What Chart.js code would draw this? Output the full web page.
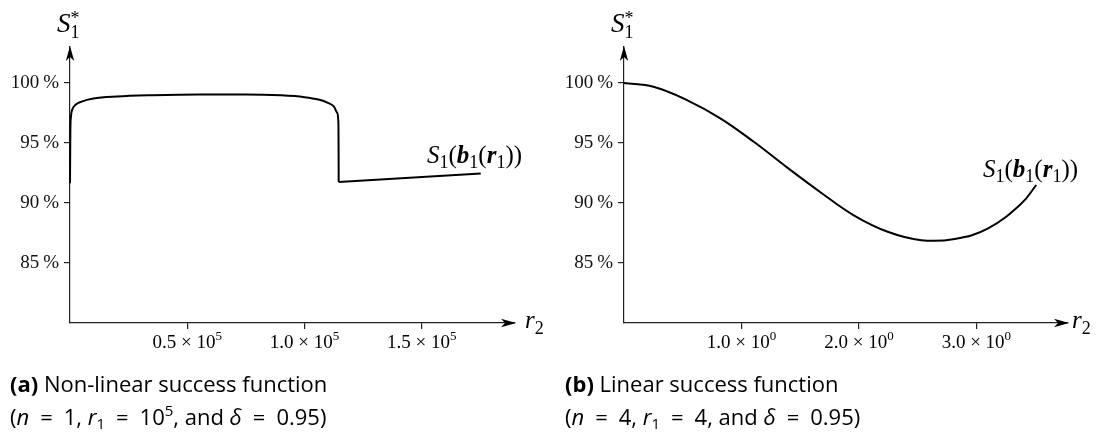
<!DOCTYPE html>
<html>
<head>
<meta charset="utf-8">
<script src="https://cdn.jsdelivr.net/npm/chart.js@4.4.1/dist/chart.umd.min.js"></script>
<style>
  body { margin: 0; background: #fff; width: 1102px; height: 432px; overflow: hidden; position: relative; }
  canvas { position: absolute; top: 0; }
  #chartA { left: 0; }
  #chartB { left: 554px; }
</style>
</head>
<body>
<canvas id="chartA" width="554" height="432"></canvas>
<canvas id="chartB" width="548" height="432"></canvas>
<script>
// (a) non-linear success function
const r2A = [0, 150, 400, 1000, 2500, 5000, 10000, 20000, 35000, 55000, 75000, 90000, 100000, 106000, 110000, 112500, 114000, 114500, 114600];
const sA = [91.65, 96.0, 97.2, 97.8, 98.2, 98.45, 98.7, 98.87, 98.98, 99.05, 99.05, 98.97, 98.82, 98.62, 98.35, 98.05, 97.5, 96.5, 91.75];
const r2ATail = [114600, 175200];
const sATail = [91.75, 92.45];
const xTicksA = [50000, 100000, 150000];
const xMantA = ['0.5', '1.0', '1.5'];
const xExpA = '5';

// (b) linear success function
const r2B = [0, 0.25, 0.536, 0.82, 1.105, 1.39, 1.675, 1.96, 2.245, 2.53, 2.815, 3.1, 3.385, 3.51];
const sB = [100, 99.69, 98.58, 97.06, 95.1, 92.95, 90.88, 88.95, 87.6, 86.9, 87.0, 87.89, 89.97, 91.5];
const xTicksB = [1, 2, 3];
const xMantB = ['1.0', '2.0', '3.0'];
const xExpB = '0';

const yTicks = [85, 90, 95, 100];

const serif = '"Liberation Serif", "DejaVu Serif", serif';
const sans = '"Open Sans", "Noto Sans", sans-serif';
const rm = s => `${s}px ${serif}`;
const it = s => `italic ${s}px ${serif}`;
const bi = s => `bold italic ${s}px ${serif}`;
const sf = s => `${s}px ${sans}`;
const sfi = s => `italic ${s}px ${sans}`;
const sfb = s => `bold ${s}px ${sans}`;
const EQ = '\u2002=\u2002';

// draws a row of text pieces (sub/superscripts via dy, stack = same x as previous piece)
function drawRuns(ctx, x, y, runs, align) {
  let w = 0;
  runs.forEach(r => {
    ctx.font = r.f;
    r.w = ctx.measureText(r.t).width;
    if (!r.stack) w += r.w;
  });
  let cx = align === 'center' ? x - w / 2 : x;
  let last = cx;
  runs.forEach(r => {
    ctx.font = r.f;
    const px = r.stack ? last : cx;
    ctx.fillText(r.t, px, y + (r.dy || 0));
    if (!r.stack) { last = cx; cx += r.w; }
  });
}

function arrow(ctx, x, y, dir) {
  ctx.save();
  ctx.translate(x, y);
  ctx.rotate(dir);
  ctx.beginPath();
  ctx.moveTo(0, 0);
  ctx.lineTo(-15, 4.2);
  ctx.lineTo(-11, 0);
  ctx.lineTo(-15, -4.2);
  ctx.closePath();
  ctx.fillStyle = '#000';
  ctx.fill();
  ctx.restore();
}

function makeChart(id, opts) {
  const axisLine = { display: true, color: '#222', width: 1.2 };
  const grid = { display: true, drawOnChartArea: false, drawTicks: true, tickLength: 6, color: '#222', lineWidth: 1.2 };

  const textPlugin = {
    id: 'texts',
    afterDraw(chart) {
      const ctx = chart.ctx;
      const { left, right, top, bottom } = chart.chartArea;
      ctx.save();
      arrow(ctx, right + 1, bottom, 0);
      arrow(ctx, left, top - 1, -Math.PI / 2);
      ctx.fillStyle = '#000';
      ctx.textBaseline = 'alphabetic';

      // x tick labels as mantissa x 10^exp
      const xs = chart.scales.x;
      xs.ticks.forEach((t, i) => {
        drawRuns(ctx, xs.getPixelForValue(t.value), 348, [
          { t: opts.xMant[i] + ' \u00d7 10', f: rm(19) },
          { t: opts.xExp, f: rm(13), dy: -8 }
        ], 'center');
      });

      // axis names
      drawRuns(ctx, 57, 32, [
        { t: 'S', f: it(27) },
        { t: '1', f: rm(18), dy: 6 },
        { t: '*', f: rm(18), dy: -8, stack: true }
      ]);
      drawRuns(ctx, opts.rX, 328, [
        { t: 'r', f: it(25) },
        { t: '2', f: rm(18), dy: 6 }
      ]);

      // curve label
      drawRuns(ctx, opts.lblX, opts.lblY, [
        { t: 'S', f: it(25) },
        { t: '1', f: rm(18), dy: 5 },
        { t: '(', f: rm(25) },
        { t: 'b', f: bi(25) },
        { t: '1', f: rm(18), dy: 5 },
        { t: '(', f: rm(25) },
        { t: 'r', f: bi(25) },
        { t: '1', f: rm(18), dy: 5 },
        { t: '))', f: rm(25) }
      ]);

      // caption
      drawRuns(ctx, opts.capX, 392, [
        { t: opts.tag, f: sfb(22) },
        { t: ' ' + opts.caption, f: sf(22) }
      ]);
      drawRuns(ctx, opts.capX, 425, [
        { t: '(', f: sf(22) },
        { t: 'n', f: sfi(22) },
        { t: EQ + opts.n + ', ', f: sf(22) },
        { t: 'r', f: sfi(22) },
        { t: '1', f: sf(15), dy: 4 },
        { t: EQ + opts.r1, f: sf(22) },
        { t: opts.r1Exp, f: sf(15), dy: -9 },
        { t: ', and ', f: sf(22) },
        { t: '\u03b4', f: sfi(22) },
        { t: EQ + '0.95)', f: sf(22) }
      ]);
      ctx.restore();
    }
  };

  return new Chart(document.getElementById(id), {
    type: 'line',
    data: { datasets: opts.datasets },
    options: {
      responsive: false,
      animation: false,
      events: [],
      layout: { padding: { left: 0, top: 47, right: opts.padRight, bottom: 72 } },
      plugins: { legend: { display: false }, tooltip: { enabled: false } },
      elements: { point: { radius: 0 } },
      scales: {
        x: {
          type: 'linear', min: 0, max: opts.xMax,
          afterBuildTicks: s => { s.ticks = opts.xTicks.map(v => ({ value: v })); },
          afterFit: s => { s.height = 37; },
          ticks: { display: false },
          grid: grid, border: axisLine
        },
        y: {
          min: 80, max: 103,
          afterBuildTicks: s => { s.ticks = yTicks.map(v => ({ value: v })); },
          afterFit: s => { s.width = 70; },
          ticks: { padding: 5, color: '#111', font: { family: serif, size: 19 }, callback: v => v + '\u2009%' },
          grid: grid, border: axisLine
        }
      }
    },
    plugins: [textPlugin]
  });
}

const pts = (xs, ys) => xs.map((x, i) => ({ x: x, y: ys[i] }));

makeChart('chartA', {
  xMax: 189800, padRight: 39, xTicks: xTicksA, xMant: xMantA, xExp: xExpA,
  rX: 525, lblX: 427, lblY: 163,
  capX: 10, tag: '(a)', caption: 'Non-linear success function', n: '1', r1: '10', r1Exp: '5',
  datasets: [
    { data: pts(r2A, sA), borderColor: '#000', borderWidth: 2, cubicInterpolationMode: 'monotone', clip: false },
    { data: pts(r2ATail, sATail), borderColor: '#000', borderWidth: 2, tension: 0, clip: false }
  ]
});

makeChart('chartB', {
  xMax: 3.78, padRight: 34, xTicks: xTicksB, xMant: xMantB, xExp: xExpB,
  rX: 518, lblX: 429, lblY: 177,
  capX: 11, tag: '(b)', caption: 'Linear success function', n: '4', r1: '4', r1Exp: '',
  datasets: [
    { data: pts(r2B, sB), borderColor: '#000', borderWidth: 2, tension: 0.4, clip: false }
  ]
});
</script>
</body>
</html>
